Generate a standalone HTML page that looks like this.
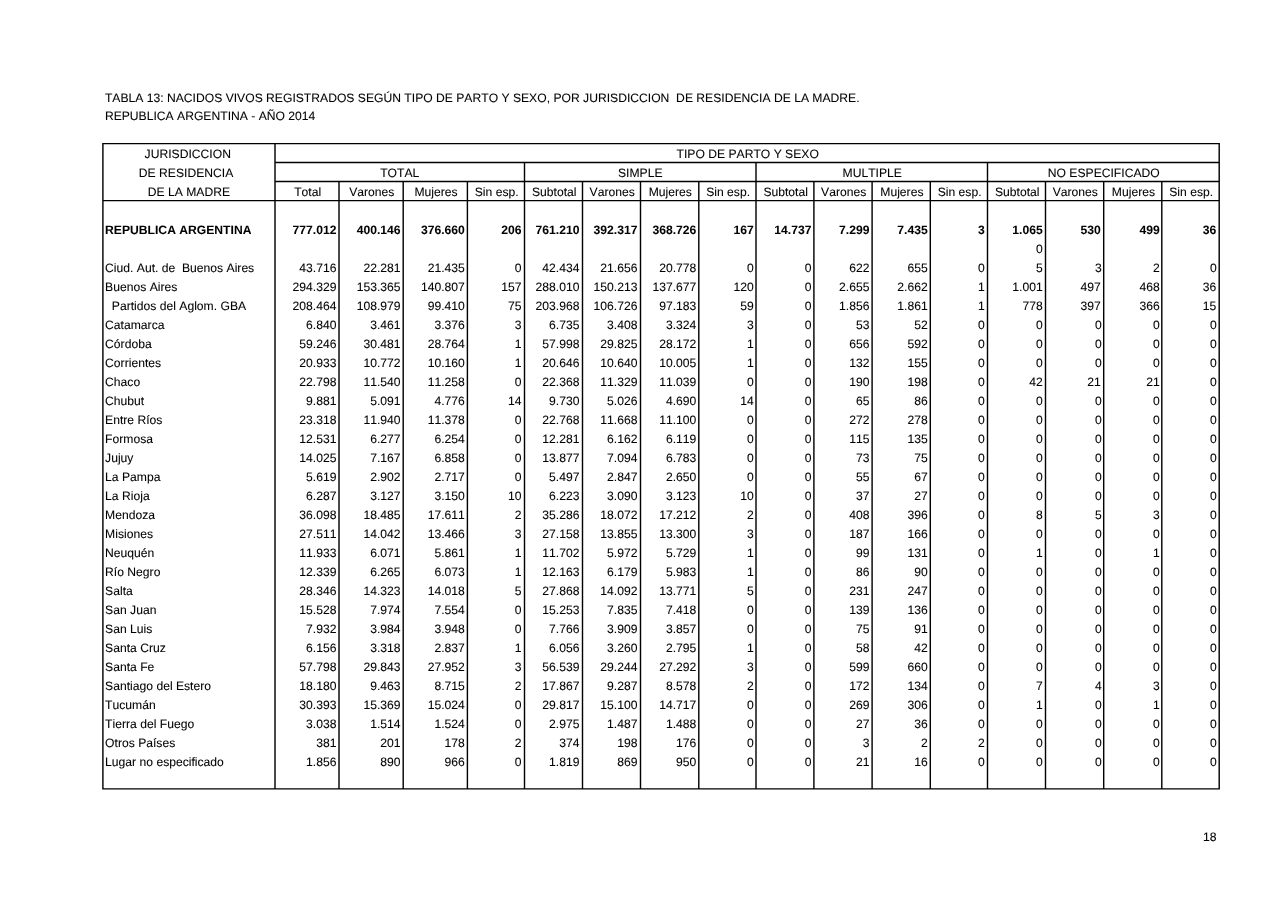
<!DOCTYPE html>
<html lang="es"><head><meta charset="utf-8"><title>Tabla 13 - Nacidos vivos registrados según tipo de parto y sexo</title>
<style>
html,body{margin:0;padding:0;background:#fff;}
body{width:1280px;height:905px;position:relative;overflow:hidden;}
svg{position:absolute;left:0;top:0;}
#tx{position:absolute;left:0;top:0;width:5120px;height:3621px;transform:scale(0.25,0.25);transform-origin:0 0;font-family:"Liberation Sans",Arial,Helvetica,sans-serif;font-size:48.56px;color:#000;font-kerning:none;text-rendering:geometricPrecision;-webkit-text-stroke:0.35px #000;}
.t{position:absolute;white-space:pre;line-height:80px;height:80px;}
.r{text-align:right;}.c{text-align:center;}.b{font-weight:bold;-webkit-text-stroke-width:0.2px;}
.k0{left:420.4px;width:676.4px;}
.k1{left:1100.0px;width:245.6px;}
.k2{left:1356.0px;width:246.4px;}
.k3{left:1612.8px;width:246.4px;}
.k4{left:1869.6px;width:216.8px;}
.k5{left:2098.0px;width:219.6px;}
.k6{left:2330.0px;width:219.6px;}
.k7{left:2562.0px;width:223.2px;}
.k8{left:2795.2px;width:220.0px;}
.k9{left:3024.0px;width:221.8px;}
.k10{left:3255.6px;width:222.4px;}
.k11{left:3488.4px;width:222.4px;}
.k12{left:3721.2px;width:218.2px;}
.k13{left:3950.0px;width:220.8px;}
.k14{left:4182.0px;width:221.2px;}
.k15{left:4414.8px;width:224.4px;}
.k16{left:4647.2px;width:218.0px;}
</style></head><body>
<svg width="1280" height="905" viewBox="0 0 1280 905" fill="none" stroke="#000" stroke-width="1.42">
<path d="M102.19 143.60H1219.91M102.19 788.85H1219.91M275.00 162.55H1219.20M275.00 181.55H1219.20M102.90 200.60H1219.20M102.90 143.60V788.85M275.00 143.60V788.85M339.00 181.55V788.85M403.20 181.55V788.85M467.40 181.55V788.85M524.50 162.55V788.85M582.50 181.55V788.85M640.50 181.55V788.85M698.80 181.55V788.85M756.00 162.55V788.85M813.90 181.55V788.85M872.10 181.55V788.85M930.30 181.55V788.85M987.50 162.55V788.85M1045.50 181.55V788.85M1103.70 181.55V788.85M1161.80 181.55V788.85M1219.20 143.60V788.85"/>
</svg>
<div id="tx">
<div class="t" style="left:419.6px;top:352.0px;">TABLA 13: NACIDOS VIVOS REGISTRADOS SEGÚN TIPO DE PARTO Y SEXO, POR JURISDICCION  DE RESIDENCIA DE LA MADRE.</div>
<div class="t" style="left:419.6px;top:424.0px;">REPUBLICA ARGENTINA - AÑO 2014</div>
<div class="t c" style="left:406.8px;width:688.4px;top:576.0px;">JURISDICCION</div>
<div class="t c" style="left:400.0px;width:688.4px;top:652.0px;">DE RESIDENCIA</div>
<div class="t c" style="left:411.6px;width:688.4px;top:728.0px;">DE LA MADRE</div>
<div class="t c" style="left:1102.4px;width:3776.8px;top:576.0px;">TIPO DE PARTO Y SEXO</div>
<div class="t c" style="left:1100.0px;width:998.0px;top:652.0px;">TOTAL</div>
<div class="t c" style="left:2098.0px;width:926.0px;top:652.0px;">SIMPLE</div>
<div class="t c" style="left:3026.0px;width:926.0px;top:652.0px;">MULTIPLE</div>
<div class="t c" style="left:3951.6px;width:926.8px;top:652.0px;">NO ESPECIFICADO</div>
<div class="t c" style="left:1102.8px;width:256.0px;top:728.0px;">Total</div>
<div class="t c" style="left:1358.8px;width:256.8px;top:728.0px;">Varones</div>
<div class="t c" style="left:1615.6px;width:256.8px;top:728.0px;">Mujeres</div>
<div class="t c" style="left:1872.4px;width:228.4px;top:728.0px;">Sin esp.</div>
<div class="t c" style="left:2100.8px;width:232.0px;top:728.0px;">Subtotal</div>
<div class="t c" style="left:2332.8px;width:232.0px;top:728.0px;">Varones</div>
<div class="t c" style="left:2564.8px;width:233.2px;top:728.0px;">Mujeres</div>
<div class="t c" style="left:2798.0px;width:228.8px;top:728.0px;">Sin esp.</div>
<div class="t c" style="left:3026.8px;width:231.6px;top:728.0px;">Subtotal</div>
<div class="t c" style="left:3258.4px;width:232.8px;top:728.0px;">Varones</div>
<div class="t c" style="left:3491.2px;width:232.8px;top:728.0px;">Mujeres</div>
<div class="t c" style="left:3724.0px;width:228.8px;top:728.0px;">Sin esp.</div>
<div class="t c" style="left:3952.8px;width:232.0px;top:728.0px;">Subtotal</div>
<div class="t c" style="left:4184.8px;width:232.8px;top:728.0px;">Varones</div>
<div class="t c" style="left:4417.6px;width:232.4px;top:728.0px;">Mujeres</div>
<div class="t c" style="left:4650.0px;width:229.6px;top:728.0px;">Sin esp.</div>
<div class="t k0 b" style="top:880.0px;">REPUBLICA ARGENTINA</div>
<div class="t r k1 b" style="top:880.0px;">777.012</div>
<div class="t r k2 b" style="top:880.0px;">400.146</div>
<div class="t r k3 b" style="top:880.0px;">376.660</div>
<div class="t r k4 b" style="top:880.0px;">206</div>
<div class="t r k5 b" style="top:880.0px;">761.210</div>
<div class="t r k6 b" style="top:880.0px;">392.317</div>
<div class="t r k7 b" style="top:880.0px;">368.726</div>
<div class="t r k8 b" style="top:880.0px;">167</div>
<div class="t r k9 b" style="top:880.0px;">14.737</div>
<div class="t r k10 b" style="top:880.0px;">7.299</div>
<div class="t r k11 b" style="top:880.0px;">7.435</div>
<div class="t r k12 b" style="top:880.0px;">3</div>
<div class="t r k13 b" style="top:880.0px;">1.065</div>
<div class="t r k14 b" style="top:880.0px;">530</div>
<div class="t r k15 b" style="top:880.0px;">499</div>
<div class="t r k16 b" style="top:880.0px;">36</div>
<div class="t r k13" style="top:956.0px;">0</div>
<div class="t k0" style="top:1032.0px;">Ciud. Aut. de  Buenos Aires</div>
<div class="t r k1" style="top:1032.0px;">43.716</div>
<div class="t r k2" style="top:1032.0px;">22.281</div>
<div class="t r k3" style="top:1032.0px;">21.435</div>
<div class="t r k4" style="top:1032.0px;">0</div>
<div class="t r k5" style="top:1032.0px;">42.434</div>
<div class="t r k6" style="top:1032.0px;">21.656</div>
<div class="t r k7" style="top:1032.0px;">20.778</div>
<div class="t r k8" style="top:1032.0px;">0</div>
<div class="t r k9" style="top:1032.0px;">0</div>
<div class="t r k10" style="top:1032.0px;">622</div>
<div class="t r k11" style="top:1032.0px;">655</div>
<div class="t r k12" style="top:1032.0px;">0</div>
<div class="t r k13" style="top:1032.0px;">5</div>
<div class="t r k14" style="top:1032.0px;width:224.8px;">3</div>
<div class="t r k15" style="top:1032.0px;">2</div>
<div class="t r k16" style="top:1032.0px;width:219.6px;">0</div>
<div class="t k0" style="top:1108.0px;">Buenos Aires</div>
<div class="t r k1" style="top:1108.0px;">294.329</div>
<div class="t r k2" style="top:1108.0px;">153.365</div>
<div class="t r k3" style="top:1108.0px;">140.807</div>
<div class="t r k4" style="top:1108.0px;">157</div>
<div class="t r k5" style="top:1108.0px;">288.010</div>
<div class="t r k6" style="top:1108.0px;">150.213</div>
<div class="t r k7" style="top:1108.0px;">137.677</div>
<div class="t r k8" style="top:1108.0px;">120</div>
<div class="t r k9" style="top:1108.0px;">0</div>
<div class="t r k10" style="top:1108.0px;">2.655</div>
<div class="t r k11" style="top:1108.0px;">2.662</div>
<div class="t r k12" style="top:1108.0px;">1</div>
<div class="t r k13" style="top:1108.0px;">1.001</div>
<div class="t r k14" style="top:1108.0px;">497</div>
<div class="t r k15" style="top:1108.0px;">468</div>
<div class="t r k16" style="top:1108.0px;">36</div>
<div class="t k0" style="top:1184.0px;">  Partidos del Aglom. GBA</div>
<div class="t r k1" style="top:1184.0px;">208.464</div>
<div class="t r k2" style="top:1184.0px;">108.979</div>
<div class="t r k3" style="top:1184.0px;">99.410</div>
<div class="t r k4" style="top:1184.0px;">75</div>
<div class="t r k5" style="top:1184.0px;">203.968</div>
<div class="t r k6" style="top:1184.0px;">106.726</div>
<div class="t r k7" style="top:1184.0px;">97.183</div>
<div class="t r k8" style="top:1184.0px;">59</div>
<div class="t r k9" style="top:1184.0px;">0</div>
<div class="t r k10" style="top:1184.0px;">1.856</div>
<div class="t r k11" style="top:1184.0px;">1.861</div>
<div class="t r k12" style="top:1184.0px;">1</div>
<div class="t r k13" style="top:1184.0px;">778</div>
<div class="t r k14" style="top:1184.0px;">397</div>
<div class="t r k15" style="top:1184.0px;">366</div>
<div class="t r k16" style="top:1184.0px;">15</div>
<div class="t k0" style="top:1260.0px;">Catamarca</div>
<div class="t r k1" style="top:1260.0px;">6.840</div>
<div class="t r k2" style="top:1260.0px;">3.461</div>
<div class="t r k3" style="top:1260.0px;">3.376</div>
<div class="t r k4" style="top:1260.0px;">3</div>
<div class="t r k5" style="top:1260.0px;">6.735</div>
<div class="t r k6" style="top:1260.0px;">3.408</div>
<div class="t r k7" style="top:1260.0px;">3.324</div>
<div class="t r k8" style="top:1260.0px;">3</div>
<div class="t r k9" style="top:1260.0px;">0</div>
<div class="t r k10" style="top:1260.0px;">53</div>
<div class="t r k11" style="top:1260.0px;">52</div>
<div class="t r k12" style="top:1260.0px;">0</div>
<div class="t r k13" style="top:1260.0px;">0</div>
<div class="t r k14" style="top:1260.0px;width:224.8px;">0</div>
<div class="t r k15" style="top:1260.0px;">0</div>
<div class="t r k16" style="top:1260.0px;width:219.6px;">0</div>
<div class="t k0" style="top:1336.0px;">Córdoba</div>
<div class="t r k1" style="top:1336.0px;">59.246</div>
<div class="t r k2" style="top:1336.0px;">30.481</div>
<div class="t r k3" style="top:1336.0px;">28.764</div>
<div class="t r k4" style="top:1336.0px;">1</div>
<div class="t r k5" style="top:1336.0px;">57.998</div>
<div class="t r k6" style="top:1336.0px;">29.825</div>
<div class="t r k7" style="top:1336.0px;">28.172</div>
<div class="t r k8" style="top:1336.0px;">1</div>
<div class="t r k9" style="top:1336.0px;">0</div>
<div class="t r k10" style="top:1336.0px;">656</div>
<div class="t r k11" style="top:1336.0px;">592</div>
<div class="t r k12" style="top:1336.0px;">0</div>
<div class="t r k13" style="top:1336.0px;">0</div>
<div class="t r k14" style="top:1336.0px;width:224.8px;">0</div>
<div class="t r k15" style="top:1336.0px;">0</div>
<div class="t r k16" style="top:1336.0px;width:219.6px;">0</div>
<div class="t k0" style="top:1412.0px;">Corrientes</div>
<div class="t r k1" style="top:1412.0px;">20.933</div>
<div class="t r k2" style="top:1412.0px;">10.772</div>
<div class="t r k3" style="top:1412.0px;">10.160</div>
<div class="t r k4" style="top:1412.0px;">1</div>
<div class="t r k5" style="top:1412.0px;">20.646</div>
<div class="t r k6" style="top:1412.0px;">10.640</div>
<div class="t r k7" style="top:1412.0px;">10.005</div>
<div class="t r k8" style="top:1412.0px;">1</div>
<div class="t r k9" style="top:1412.0px;">0</div>
<div class="t r k10" style="top:1412.0px;">132</div>
<div class="t r k11" style="top:1412.0px;">155</div>
<div class="t r k12" style="top:1412.0px;">0</div>
<div class="t r k13" style="top:1412.0px;">0</div>
<div class="t r k14" style="top:1412.0px;width:224.8px;">0</div>
<div class="t r k15" style="top:1412.0px;">0</div>
<div class="t r k16" style="top:1412.0px;width:219.6px;">0</div>
<div class="t k0" style="top:1488.0px;">Chaco</div>
<div class="t r k1" style="top:1488.0px;">22.798</div>
<div class="t r k2" style="top:1488.0px;">11.540</div>
<div class="t r k3" style="top:1488.0px;">11.258</div>
<div class="t r k4" style="top:1488.0px;">0</div>
<div class="t r k5" style="top:1488.0px;">22.368</div>
<div class="t r k6" style="top:1488.0px;">11.329</div>
<div class="t r k7" style="top:1488.0px;">11.039</div>
<div class="t r k8" style="top:1488.0px;">0</div>
<div class="t r k9" style="top:1488.0px;">0</div>
<div class="t r k10" style="top:1488.0px;">190</div>
<div class="t r k11" style="top:1488.0px;">198</div>
<div class="t r k12" style="top:1488.0px;">0</div>
<div class="t r k13" style="top:1488.0px;">42</div>
<div class="t r k14" style="top:1488.0px;">21</div>
<div class="t r k15" style="top:1488.0px;">21</div>
<div class="t r k16" style="top:1488.0px;width:219.6px;">0</div>
<div class="t k0" style="top:1564.0px;">Chubut</div>
<div class="t r k1" style="top:1564.0px;">9.881</div>
<div class="t r k2" style="top:1564.0px;">5.091</div>
<div class="t r k3" style="top:1564.0px;">4.776</div>
<div class="t r k4" style="top:1564.0px;">14</div>
<div class="t r k5" style="top:1564.0px;">9.730</div>
<div class="t r k6" style="top:1564.0px;">5.026</div>
<div class="t r k7" style="top:1564.0px;">4.690</div>
<div class="t r k8" style="top:1564.0px;">14</div>
<div class="t r k9" style="top:1564.0px;">0</div>
<div class="t r k10" style="top:1564.0px;">65</div>
<div class="t r k11" style="top:1564.0px;">86</div>
<div class="t r k12" style="top:1564.0px;">0</div>
<div class="t r k13" style="top:1564.0px;">0</div>
<div class="t r k14" style="top:1564.0px;width:224.8px;">0</div>
<div class="t r k15" style="top:1564.0px;">0</div>
<div class="t r k16" style="top:1564.0px;width:219.6px;">0</div>
<div class="t k0" style="top:1640.0px;">Entre Ríos</div>
<div class="t r k1" style="top:1640.0px;">23.318</div>
<div class="t r k2" style="top:1640.0px;">11.940</div>
<div class="t r k3" style="top:1640.0px;">11.378</div>
<div class="t r k4" style="top:1640.0px;">0</div>
<div class="t r k5" style="top:1640.0px;">22.768</div>
<div class="t r k6" style="top:1640.0px;">11.668</div>
<div class="t r k7" style="top:1640.0px;">11.100</div>
<div class="t r k8" style="top:1640.0px;">0</div>
<div class="t r k9" style="top:1640.0px;">0</div>
<div class="t r k10" style="top:1640.0px;">272</div>
<div class="t r k11" style="top:1640.0px;">278</div>
<div class="t r k12" style="top:1640.0px;">0</div>
<div class="t r k13" style="top:1640.0px;">0</div>
<div class="t r k14" style="top:1640.0px;width:224.8px;">0</div>
<div class="t r k15" style="top:1640.0px;">0</div>
<div class="t r k16" style="top:1640.0px;width:219.6px;">0</div>
<div class="t k0" style="top:1716.0px;">Formosa</div>
<div class="t r k1" style="top:1716.0px;">12.531</div>
<div class="t r k2" style="top:1716.0px;">6.277</div>
<div class="t r k3" style="top:1716.0px;">6.254</div>
<div class="t r k4" style="top:1716.0px;">0</div>
<div class="t r k5" style="top:1716.0px;">12.281</div>
<div class="t r k6" style="top:1716.0px;">6.162</div>
<div class="t r k7" style="top:1716.0px;">6.119</div>
<div class="t r k8" style="top:1716.0px;">0</div>
<div class="t r k9" style="top:1716.0px;">0</div>
<div class="t r k10" style="top:1716.0px;">115</div>
<div class="t r k11" style="top:1716.0px;">135</div>
<div class="t r k12" style="top:1716.0px;">0</div>
<div class="t r k13" style="top:1716.0px;">0</div>
<div class="t r k14" style="top:1716.0px;width:224.8px;">0</div>
<div class="t r k15" style="top:1716.0px;">0</div>
<div class="t r k16" style="top:1716.0px;width:219.6px;">0</div>
<div class="t k0" style="top:1792.0px;">Jujuy</div>
<div class="t r k1" style="top:1792.0px;">14.025</div>
<div class="t r k2" style="top:1792.0px;">7.167</div>
<div class="t r k3" style="top:1792.0px;">6.858</div>
<div class="t r k4" style="top:1792.0px;">0</div>
<div class="t r k5" style="top:1792.0px;">13.877</div>
<div class="t r k6" style="top:1792.0px;">7.094</div>
<div class="t r k7" style="top:1792.0px;">6.783</div>
<div class="t r k8" style="top:1792.0px;">0</div>
<div class="t r k9" style="top:1792.0px;">0</div>
<div class="t r k10" style="top:1792.0px;">73</div>
<div class="t r k11" style="top:1792.0px;">75</div>
<div class="t r k12" style="top:1792.0px;">0</div>
<div class="t r k13" style="top:1792.0px;">0</div>
<div class="t r k14" style="top:1792.0px;width:224.8px;">0</div>
<div class="t r k15" style="top:1792.0px;">0</div>
<div class="t r k16" style="top:1792.0px;width:219.6px;">0</div>
<div class="t k0" style="top:1868.0px;">La Pampa</div>
<div class="t r k1" style="top:1868.0px;">5.619</div>
<div class="t r k2" style="top:1868.0px;">2.902</div>
<div class="t r k3" style="top:1868.0px;">2.717</div>
<div class="t r k4" style="top:1868.0px;">0</div>
<div class="t r k5" style="top:1868.0px;">5.497</div>
<div class="t r k6" style="top:1868.0px;">2.847</div>
<div class="t r k7" style="top:1868.0px;">2.650</div>
<div class="t r k8" style="top:1868.0px;">0</div>
<div class="t r k9" style="top:1868.0px;">0</div>
<div class="t r k10" style="top:1868.0px;">55</div>
<div class="t r k11" style="top:1868.0px;">67</div>
<div class="t r k12" style="top:1868.0px;">0</div>
<div class="t r k13" style="top:1868.0px;">0</div>
<div class="t r k14" style="top:1868.0px;width:224.8px;">0</div>
<div class="t r k15" style="top:1868.0px;">0</div>
<div class="t r k16" style="top:1868.0px;width:219.6px;">0</div>
<div class="t k0" style="top:1944.0px;">La Rioja</div>
<div class="t r k1" style="top:1944.0px;">6.287</div>
<div class="t r k2" style="top:1944.0px;">3.127</div>
<div class="t r k3" style="top:1944.0px;">3.150</div>
<div class="t r k4" style="top:1944.0px;">10</div>
<div class="t r k5" style="top:1944.0px;">6.223</div>
<div class="t r k6" style="top:1944.0px;">3.090</div>
<div class="t r k7" style="top:1944.0px;">3.123</div>
<div class="t r k8" style="top:1944.0px;">10</div>
<div class="t r k9" style="top:1944.0px;">0</div>
<div class="t r k10" style="top:1944.0px;">37</div>
<div class="t r k11" style="top:1944.0px;">27</div>
<div class="t r k12" style="top:1944.0px;">0</div>
<div class="t r k13" style="top:1944.0px;">0</div>
<div class="t r k14" style="top:1944.0px;width:224.8px;">0</div>
<div class="t r k15" style="top:1944.0px;">0</div>
<div class="t r k16" style="top:1944.0px;width:219.6px;">0</div>
<div class="t k0" style="top:2020.0px;">Mendoza</div>
<div class="t r k1" style="top:2020.0px;">36.098</div>
<div class="t r k2" style="top:2020.0px;">18.485</div>
<div class="t r k3" style="top:2020.0px;">17.611</div>
<div class="t r k4" style="top:2020.0px;">2</div>
<div class="t r k5" style="top:2020.0px;">35.286</div>
<div class="t r k6" style="top:2020.0px;">18.072</div>
<div class="t r k7" style="top:2020.0px;">17.212</div>
<div class="t r k8" style="top:2020.0px;">2</div>
<div class="t r k9" style="top:2020.0px;">0</div>
<div class="t r k10" style="top:2020.0px;">408</div>
<div class="t r k11" style="top:2020.0px;">396</div>
<div class="t r k12" style="top:2020.0px;">0</div>
<div class="t r k13" style="top:2020.0px;">8</div>
<div class="t r k14" style="top:2020.0px;width:224.8px;">5</div>
<div class="t r k15" style="top:2020.0px;">3</div>
<div class="t r k16" style="top:2020.0px;width:219.6px;">0</div>
<div class="t k0" style="top:2096.0px;">Misiones</div>
<div class="t r k1" style="top:2096.0px;">27.511</div>
<div class="t r k2" style="top:2096.0px;">14.042</div>
<div class="t r k3" style="top:2096.0px;">13.466</div>
<div class="t r k4" style="top:2096.0px;">3</div>
<div class="t r k5" style="top:2096.0px;">27.158</div>
<div class="t r k6" style="top:2096.0px;">13.855</div>
<div class="t r k7" style="top:2096.0px;">13.300</div>
<div class="t r k8" style="top:2096.0px;">3</div>
<div class="t r k9" style="top:2096.0px;">0</div>
<div class="t r k10" style="top:2096.0px;">187</div>
<div class="t r k11" style="top:2096.0px;">166</div>
<div class="t r k12" style="top:2096.0px;">0</div>
<div class="t r k13" style="top:2096.0px;">0</div>
<div class="t r k14" style="top:2096.0px;width:224.8px;">0</div>
<div class="t r k15" style="top:2096.0px;">0</div>
<div class="t r k16" style="top:2096.0px;width:219.6px;">0</div>
<div class="t k0" style="top:2172.0px;">Neuquén</div>
<div class="t r k1" style="top:2172.0px;">11.933</div>
<div class="t r k2" style="top:2172.0px;">6.071</div>
<div class="t r k3" style="top:2172.0px;">5.861</div>
<div class="t r k4" style="top:2172.0px;">1</div>
<div class="t r k5" style="top:2172.0px;">11.702</div>
<div class="t r k6" style="top:2172.0px;">5.972</div>
<div class="t r k7" style="top:2172.0px;">5.729</div>
<div class="t r k8" style="top:2172.0px;">1</div>
<div class="t r k9" style="top:2172.0px;">0</div>
<div class="t r k10" style="top:2172.0px;">99</div>
<div class="t r k11" style="top:2172.0px;">131</div>
<div class="t r k12" style="top:2172.0px;">0</div>
<div class="t r k13" style="top:2172.0px;">1</div>
<div class="t r k14" style="top:2172.0px;width:224.8px;">0</div>
<div class="t r k15" style="top:2172.0px;">1</div>
<div class="t r k16" style="top:2172.0px;width:219.6px;">0</div>
<div class="t k0" style="top:2248.0px;">Río Negro</div>
<div class="t r k1" style="top:2248.0px;">12.339</div>
<div class="t r k2" style="top:2248.0px;">6.265</div>
<div class="t r k3" style="top:2248.0px;">6.073</div>
<div class="t r k4" style="top:2248.0px;">1</div>
<div class="t r k5" style="top:2248.0px;">12.163</div>
<div class="t r k6" style="top:2248.0px;">6.179</div>
<div class="t r k7" style="top:2248.0px;">5.983</div>
<div class="t r k8" style="top:2248.0px;">1</div>
<div class="t r k9" style="top:2248.0px;">0</div>
<div class="t r k10" style="top:2248.0px;">86</div>
<div class="t r k11" style="top:2248.0px;">90</div>
<div class="t r k12" style="top:2248.0px;">0</div>
<div class="t r k13" style="top:2248.0px;">0</div>
<div class="t r k14" style="top:2248.0px;width:224.8px;">0</div>
<div class="t r k15" style="top:2248.0px;">0</div>
<div class="t r k16" style="top:2248.0px;width:219.6px;">0</div>
<div class="t k0" style="top:2324.0px;">Salta</div>
<div class="t r k1" style="top:2324.0px;">28.346</div>
<div class="t r k2" style="top:2324.0px;">14.323</div>
<div class="t r k3" style="top:2324.0px;">14.018</div>
<div class="t r k4" style="top:2324.0px;">5</div>
<div class="t r k5" style="top:2324.0px;">27.868</div>
<div class="t r k6" style="top:2324.0px;">14.092</div>
<div class="t r k7" style="top:2324.0px;">13.771</div>
<div class="t r k8" style="top:2324.0px;">5</div>
<div class="t r k9" style="top:2324.0px;">0</div>
<div class="t r k10" style="top:2324.0px;">231</div>
<div class="t r k11" style="top:2324.0px;">247</div>
<div class="t r k12" style="top:2324.0px;">0</div>
<div class="t r k13" style="top:2324.0px;">0</div>
<div class="t r k14" style="top:2324.0px;width:224.8px;">0</div>
<div class="t r k15" style="top:2324.0px;">0</div>
<div class="t r k16" style="top:2324.0px;width:219.6px;">0</div>
<div class="t k0" style="top:2400.0px;">San Juan</div>
<div class="t r k1" style="top:2400.0px;">15.528</div>
<div class="t r k2" style="top:2400.0px;">7.974</div>
<div class="t r k3" style="top:2400.0px;">7.554</div>
<div class="t r k4" style="top:2400.0px;">0</div>
<div class="t r k5" style="top:2400.0px;">15.253</div>
<div class="t r k6" style="top:2400.0px;">7.835</div>
<div class="t r k7" style="top:2400.0px;">7.418</div>
<div class="t r k8" style="top:2400.0px;">0</div>
<div class="t r k9" style="top:2400.0px;">0</div>
<div class="t r k10" style="top:2400.0px;">139</div>
<div class="t r k11" style="top:2400.0px;">136</div>
<div class="t r k12" style="top:2400.0px;">0</div>
<div class="t r k13" style="top:2400.0px;">0</div>
<div class="t r k14" style="top:2400.0px;width:224.8px;">0</div>
<div class="t r k15" style="top:2400.0px;">0</div>
<div class="t r k16" style="top:2400.0px;width:219.6px;">0</div>
<div class="t k0" style="top:2476.0px;">San Luis</div>
<div class="t r k1" style="top:2476.0px;">7.932</div>
<div class="t r k2" style="top:2476.0px;">3.984</div>
<div class="t r k3" style="top:2476.0px;">3.948</div>
<div class="t r k4" style="top:2476.0px;">0</div>
<div class="t r k5" style="top:2476.0px;">7.766</div>
<div class="t r k6" style="top:2476.0px;">3.909</div>
<div class="t r k7" style="top:2476.0px;">3.857</div>
<div class="t r k8" style="top:2476.0px;">0</div>
<div class="t r k9" style="top:2476.0px;">0</div>
<div class="t r k10" style="top:2476.0px;">75</div>
<div class="t r k11" style="top:2476.0px;">91</div>
<div class="t r k12" style="top:2476.0px;">0</div>
<div class="t r k13" style="top:2476.0px;">0</div>
<div class="t r k14" style="top:2476.0px;width:224.8px;">0</div>
<div class="t r k15" style="top:2476.0px;">0</div>
<div class="t r k16" style="top:2476.0px;width:219.6px;">0</div>
<div class="t k0" style="top:2552.0px;">Santa Cruz</div>
<div class="t r k1" style="top:2552.0px;">6.156</div>
<div class="t r k2" style="top:2552.0px;">3.318</div>
<div class="t r k3" style="top:2552.0px;">2.837</div>
<div class="t r k4" style="top:2552.0px;">1</div>
<div class="t r k5" style="top:2552.0px;">6.056</div>
<div class="t r k6" style="top:2552.0px;">3.260</div>
<div class="t r k7" style="top:2552.0px;">2.795</div>
<div class="t r k8" style="top:2552.0px;">1</div>
<div class="t r k9" style="top:2552.0px;">0</div>
<div class="t r k10" style="top:2552.0px;">58</div>
<div class="t r k11" style="top:2552.0px;">42</div>
<div class="t r k12" style="top:2552.0px;">0</div>
<div class="t r k13" style="top:2552.0px;">0</div>
<div class="t r k14" style="top:2552.0px;width:224.8px;">0</div>
<div class="t r k15" style="top:2552.0px;">0</div>
<div class="t r k16" style="top:2552.0px;width:219.6px;">0</div>
<div class="t k0" style="top:2628.0px;">Santa Fe</div>
<div class="t r k1" style="top:2628.0px;">57.798</div>
<div class="t r k2" style="top:2628.0px;">29.843</div>
<div class="t r k3" style="top:2628.0px;">27.952</div>
<div class="t r k4" style="top:2628.0px;">3</div>
<div class="t r k5" style="top:2628.0px;">56.539</div>
<div class="t r k6" style="top:2628.0px;">29.244</div>
<div class="t r k7" style="top:2628.0px;">27.292</div>
<div class="t r k8" style="top:2628.0px;">3</div>
<div class="t r k9" style="top:2628.0px;">0</div>
<div class="t r k10" style="top:2628.0px;">599</div>
<div class="t r k11" style="top:2628.0px;">660</div>
<div class="t r k12" style="top:2628.0px;">0</div>
<div class="t r k13" style="top:2628.0px;">0</div>
<div class="t r k14" style="top:2628.0px;width:224.8px;">0</div>
<div class="t r k15" style="top:2628.0px;">0</div>
<div class="t r k16" style="top:2628.0px;width:219.6px;">0</div>
<div class="t k0" style="top:2704.0px;">Santiago del Estero</div>
<div class="t r k1" style="top:2704.0px;">18.180</div>
<div class="t r k2" style="top:2704.0px;">9.463</div>
<div class="t r k3" style="top:2704.0px;">8.715</div>
<div class="t r k4" style="top:2704.0px;">2</div>
<div class="t r k5" style="top:2704.0px;">17.867</div>
<div class="t r k6" style="top:2704.0px;">9.287</div>
<div class="t r k7" style="top:2704.0px;">8.578</div>
<div class="t r k8" style="top:2704.0px;">2</div>
<div class="t r k9" style="top:2704.0px;">0</div>
<div class="t r k10" style="top:2704.0px;">172</div>
<div class="t r k11" style="top:2704.0px;">134</div>
<div class="t r k12" style="top:2704.0px;">0</div>
<div class="t r k13" style="top:2704.0px;">7</div>
<div class="t r k14" style="top:2704.0px;width:224.8px;">4</div>
<div class="t r k15" style="top:2704.0px;">3</div>
<div class="t r k16" style="top:2704.0px;width:219.6px;">0</div>
<div class="t k0" style="top:2780.0px;">Tucumán</div>
<div class="t r k1" style="top:2780.0px;">30.393</div>
<div class="t r k2" style="top:2780.0px;">15.369</div>
<div class="t r k3" style="top:2780.0px;">15.024</div>
<div class="t r k4" style="top:2780.0px;">0</div>
<div class="t r k5" style="top:2780.0px;">29.817</div>
<div class="t r k6" style="top:2780.0px;">15.100</div>
<div class="t r k7" style="top:2780.0px;">14.717</div>
<div class="t r k8" style="top:2780.0px;">0</div>
<div class="t r k9" style="top:2780.0px;">0</div>
<div class="t r k10" style="top:2780.0px;">269</div>
<div class="t r k11" style="top:2780.0px;">306</div>
<div class="t r k12" style="top:2780.0px;">0</div>
<div class="t r k13" style="top:2780.0px;">1</div>
<div class="t r k14" style="top:2780.0px;width:224.8px;">0</div>
<div class="t r k15" style="top:2780.0px;">1</div>
<div class="t r k16" style="top:2780.0px;width:219.6px;">0</div>
<div class="t k0" style="top:2856.0px;">Tierra del Fuego</div>
<div class="t r k1" style="top:2856.0px;">3.038</div>
<div class="t r k2" style="top:2856.0px;">1.514</div>
<div class="t r k3" style="top:2856.0px;">1.524</div>
<div class="t r k4" style="top:2856.0px;">0</div>
<div class="t r k5" style="top:2856.0px;">2.975</div>
<div class="t r k6" style="top:2856.0px;">1.487</div>
<div class="t r k7" style="top:2856.0px;">1.488</div>
<div class="t r k8" style="top:2856.0px;">0</div>
<div class="t r k9" style="top:2856.0px;">0</div>
<div class="t r k10" style="top:2856.0px;">27</div>
<div class="t r k11" style="top:2856.0px;">36</div>
<div class="t r k12" style="top:2856.0px;">0</div>
<div class="t r k13" style="top:2856.0px;">0</div>
<div class="t r k14" style="top:2856.0px;width:224.8px;">0</div>
<div class="t r k15" style="top:2856.0px;">0</div>
<div class="t r k16" style="top:2856.0px;width:219.6px;">0</div>
<div class="t k0" style="top:2932.0px;">Otros Países</div>
<div class="t r k1" style="top:2932.0px;">381</div>
<div class="t r k2" style="top:2932.0px;">201</div>
<div class="t r k3" style="top:2932.0px;">178</div>
<div class="t r k4" style="top:2932.0px;">2</div>
<div class="t r k5" style="top:2932.0px;">374</div>
<div class="t r k6" style="top:2932.0px;">198</div>
<div class="t r k7" style="top:2932.0px;">176</div>
<div class="t r k8" style="top:2932.0px;">0</div>
<div class="t r k9" style="top:2932.0px;">0</div>
<div class="t r k10" style="top:2932.0px;">3</div>
<div class="t r k11" style="top:2932.0px;">2</div>
<div class="t r k12" style="top:2932.0px;">2</div>
<div class="t r k13" style="top:2932.0px;">0</div>
<div class="t r k14" style="top:2932.0px;width:224.8px;">0</div>
<div class="t r k15" style="top:2932.0px;">0</div>
<div class="t r k16" style="top:2932.0px;width:219.6px;">0</div>
<div class="t k0" style="top:3008.0px;">Lugar no especificado</div>
<div class="t r k1" style="top:3008.0px;">1.856</div>
<div class="t r k2" style="top:3008.0px;">890</div>
<div class="t r k3" style="top:3008.0px;">966</div>
<div class="t r k4" style="top:3008.0px;">0</div>
<div class="t r k5" style="top:3008.0px;">1.819</div>
<div class="t r k6" style="top:3008.0px;">869</div>
<div class="t r k7" style="top:3008.0px;">950</div>
<div class="t r k8" style="top:3008.0px;">0</div>
<div class="t r k9" style="top:3008.0px;">0</div>
<div class="t r k10" style="top:3008.0px;">21</div>
<div class="t r k11" style="top:3008.0px;">16</div>
<div class="t r k12" style="top:3008.0px;">0</div>
<div class="t r k13" style="top:3008.0px;">0</div>
<div class="t r k14" style="top:3008.0px;width:224.8px;">0</div>
<div class="t r k15" style="top:3008.0px;">0</div>
<div class="t r k16" style="top:3008.0px;width:219.6px;">0</div>
<div class="t" style="left:4812.0px;top:3308.0px;">18</div>
</div>
</body></html>
